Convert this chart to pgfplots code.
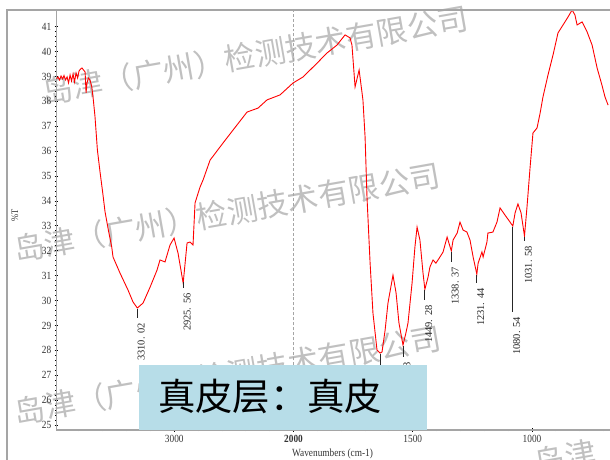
\documentclass[border=0pt]{standalone}
\usepackage{pgfplots}
\pgfplotsset{compat=1.18}
\usepackage{fontspec}
\setmainfont{Liberation Serif}
\newfontfamily\tickfont[FakeStretch=0.85]{Liberation Serif}
\newfontfamily\cjk{Noto Sans CJK SC}
\definecolor{boxblue}{RGB}{183,221,232}
\definecolor{axgray}{RGB}{165,165,165}
\definecolor{wmgray}{RGB}{192,192,192}
\begin{document}
\begin{tikzpicture}
\useasboundingbox (0,0) rectangle (610bp,460bp);
% watermarks
\begin{scope}[x=1bp, y=1bp, every node/.style={rotate=10, text=wmgray, font=\cjk\fontsize{31}{31}\selectfont, inner sep=0}]
\node at (255,405) {岛津（广州）检测技术有限公司};
\node at (227,247.5) {岛津（广州）检测技术有限公司};
\node at (227.5,85) {岛津（广州）检测技术有限公司};
\node at (747.5,35) {岛津（广州）检测技术有限公司};
\end{scope}
\begin{axis}[
  at={(56.5bp,30bp)}, anchor=south west,
  scale only axis, width=553.5bp, height=420bp,
  x dir=reverse,
  xmin=673, xmax=2994, ymin=24.8, ymax=41.67,
  x filter/.expression={x>2000 ? 2000+(x-2000)/2 : x},
  axis x line*=bottom, axis y line*=left,
  axis line style={draw=axgray, line width=1.2bp},
  xtick={1000,1500,2000,2500},
  xticklabels={1000,1500,\textbf{2000},3000},
  minor xtick={700,800,...,2900},
  ytick={25,26,...,41},
  minor y tick num=4,
  tick align=center,
  major tick length=3.5bp, minor tick length=2bp,
  every tick/.style={black, line width=0.9bp},
  /pgf/number format/assume math mode=true,
  ticklabel style={font=\tickfont\fontsize{11}{11}\selectfont, text=black!80},
  extra x ticks={2000}, extra x tick labels={},
  extra x tick style={grid=major, major grid style={axgray, densely dashed, line width=0.5bp}, major tick length=0pt},
  pkline/.style={black!85, line width=0.8bp, mark=none},
]
\addplot[red, line width=0.9bp, mark=none] coordinates {
(3988,38.90) (3975,38.98) (3962,38.86) (3950,39.02) (3937,38.90) (3925,39.04)
(3912,38.86) (3899,38.98) (3887,38.74) (3874,39.06) (3862,38.82) (3849,39.10)
(3837,38.78) (3824,39.14) (3811,38.94) (3799,39.22) (3786,39.30) (3774,39.34)
(3761,39.26) (3748,39.18) (3740,38.34) (3732,38.74) (3721,38.94) (3707,38.86)
(3692,38.58) (3679,38.06) (3665,37.38) (3645,36.05) (3623,35.17) (3600,34.32)
(3581,33.57) (3553,32.83) (3525,32.16) (3514,31.75) (3455,31.10) (3388,30.42)
(3346,29.94) (3310.02,29.70) (3262,29.90) (3203,30.54) (3145,31.22) (3120,31.63)
(3078,31.55) (3036,32.23) (3002,32.51) (2969,31.91) (2925.56,30.70) (2893,32.31)
(2868,32.35) (2843,32.23) (2826,33.92) (2784,34.56) (2759,34.84) (2700,35.64)
(2591,36.33) (2507,36.85) (2390,37.57) (2298,37.73) (2222,38.06) (2113,38.26)
(2004,38.74) (1960,38.98) (1901,39.54) (1860,39.94) (1818,40.26) (1784,40.67)
(1763,40.55) (1755,40.26) (1742,38.58) (1725,39.26) (1709,38.06) (1700,36.57)
(1692,34.16) (1679,31.51) (1667,29.50) (1650,28.01) (1637,27.89) (1629,27.93)
(1616,28.81) (1604,29.90) (1583,31.02) (1570,30.30) (1558,29.10) (1541,28.21)
(1528,28.73) (1520,29.10) (1503,30.70) (1491,32.15) (1482,32.95) (1470,32.43)
(1457,31.10) (1449.28,30.45) (1436,30.94) (1428,31.35) (1415,31.63) (1403,31.50)
(1386,31.75) (1373,31.95) (1356,32.55) (1338.37,31.99) (1331,32.43) (1314,32.71)
(1302,33.15) (1289,32.83) (1273,32.75) (1260,32.43) (1247,31.75) (1231.44,31.06)
(1226,31.50) (1210,31.95) (1205,31.75) (1189,32.35) (1185,32.71) (1164,32.75)
(1147,33.15) (1134,33.72) (1113,33.43) (1092,33.15) (1080.54,32.99) (1071,33.52)
(1059,33.88) (1046,33.52) (1031.58,32.59) (1021,33.76) (1008,35.36) (996,36.73)
(979,36.93) (966,37.53) (954,38.18) (933,39.06) (912,39.86) (891,40.75)
(862,41.19) (849,41.39) (832,41.67) (820,41.47) (811,41.07) (790,41.19)
(769,40.79) (748,40.26) (727,39.34) (707,38.66) (694,38.18) (681,37.85)
};
\tikzset{pk/.style={pos=1, yshift=-5bp, rotate=90, anchor=north east, inner sep=0pt, text=black!85, font=\fontsize{10.5}{10.5}\selectfont}}
\addplot[pkline] coordinates {(3310.02,29.66) (3310.02,29.30)} node[pk] {3310. 02};
\addplot[pkline] coordinates {(2925.56,30.74) (2925.56,30.50)} node[pk] {2925. 56};
\addplot[pkline] coordinates {(1637.00,27.86) (1637.00,27.20)} node[pk] {1637. 12};
\addplot[pkline] coordinates {(1541.00,28.18) (1541.00,27.73)} node[pk] {1541. 63};
\addplot[pkline] coordinates {(1449.28,30.42) (1449.28,30.02)} node[pk] {1449. 28};
\addplot[pkline] coordinates {(1338.37,31.96) (1338.37,31.55)} node[pk] {1338. 37};
\addplot[pkline] coordinates {(1231.44,31.03) (1231.44,30.70)} node[pk] {1231. 44};
\addplot[pkline] coordinates {(1080.54,32.96) (1080.54,29.54)} node[pk] {1080. 54};
\addplot[pkline] coordinates {(1031.58,32.56) (1031.58,32.39)} node[pk] {1031. 58};
\end{axis}
\begin{scope}[x=1bp, y=1bp]
% frame
\draw[axgray, line width=1.2bp] (7,0) -- (7,450) -- (610,450);
% axis labels
\node[font=\tickfont\fontsize{11}{11}\selectfont, text=black!80] at (332.5,6) {Wavenumbers (cm-1)};
\node[rotate=90, font=\tickfont\fontsize{10}{10}\selectfont, text=black!80] at (15,245) {\%T};
% title box
\fill[boxblue] (139,30) rectangle (427,95);
\node[anchor=west, inner sep=0pt, font=\cjk\fontsize{37.5}{37.5}\selectfont] at (158,63.5) {真皮层：真皮};
\end{scope}
\end{tikzpicture}
\end{document}
